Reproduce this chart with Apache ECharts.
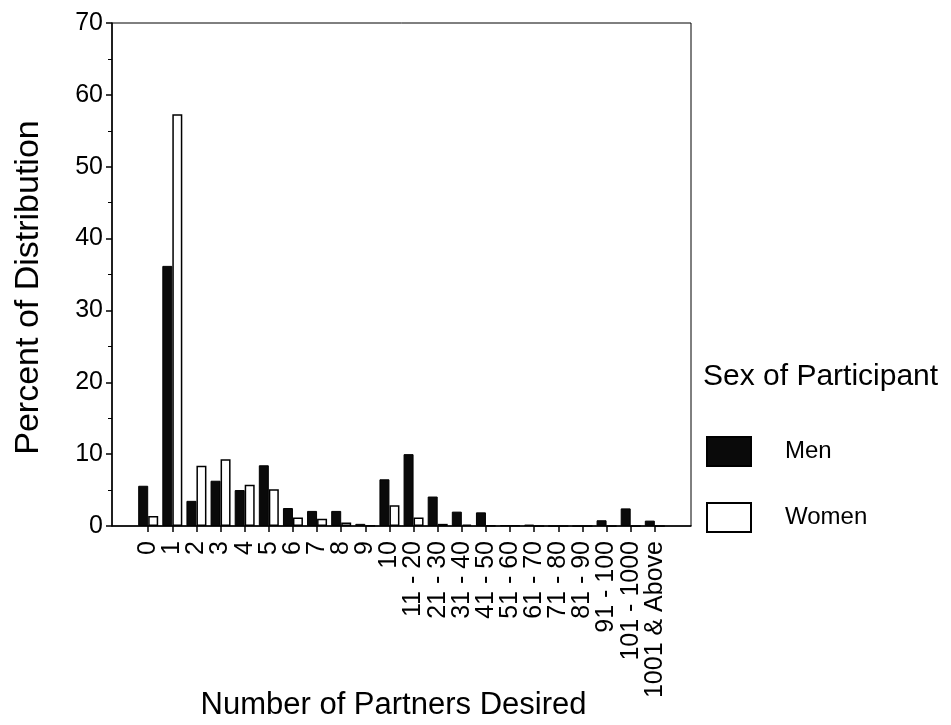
<!DOCTYPE html>
<html>
<head>
<meta charset="utf-8">
<script src="https://cdn.jsdelivr.net/npm/echarts@6/dist/echarts.min.js"></script>
<style>
html,body{margin:0;padding:0;background:#fff;}
#chart{width:951px;height:725px;}
</style>
</head>
<body>
<div id="chart"></div>
<script>
var categories = ['0','1','2','3','4','5','6','7','8','9','10','11 - 20','21 - 30','31 - 40','41 - 50','51 - 60','61 - 70','71 - 80','81 - 90','91 - 100','101 - 1000','1001 & Above'];
var men =   [5.6, 36.2, 3.5, 6.3, 5.0, 8.45, 2.5, 2.1, 2.1, 0.3, 6.5, 10.0, 4.1, 2.0, 1.9, 0.1, 0.2, 0, 0, 0.8, 2.45, 0.75];
var women = [1.4, 57.3, 8.4, 9.3, 5.75, 5.1, 1.2, 1.0, 0.5, 0.05, 2.9, 1.2, 0.3, 0.2, 0.1, 0.05, 0, 0, 0, 0, 0, 0];
var yTicks = [0, 10, 20, 30, 40, 50, 60, 70];

// pad one empty slot on each side of the category axis
var cats = [''].concat(categories, ['']);
var menP = [null].concat(men, [null]);
var womenP = [null].concat(women, [null]);

var FONT = 'Liberation Sans, Arial, sans-serif';
var chart = echarts.init(document.getElementById('chart'));
chart.setOption({
  animation: false,
  backgroundColor: '#fff',
  textStyle: {fontFamily: FONT, color: '#000'},
  title: {
    text: 'Sex of Participant',
    left: 703, top: 362, padding: 0,
    textStyle: {fontFamily: FONT, fontSize: 30, fontWeight: 'normal', color: '#000'}
  },
  legend: {
    orient: 'vertical',
    left: 706, top: 436, padding: 0,
    itemWidth: 44, itemHeight: 29, itemGap: 35,
    icon: 'rect',
    data: ['Men', 'Women'],
    textStyle: {fontFamily: FONT, fontSize: 24, color: '#000', padding: [0, 0, 0, 29]}
  },
  grid: {
    left: 112, right: 260, top: 23, bottom: 199,
    outerBoundsMode: 'none', containLabel: false,
    show: true, borderColor: '#000', borderWidth: 1, backgroundColor: 'transparent'
  },
  xAxis: {
    type: 'category',
    data: cats,
    name: 'Number of Partners Desired',
    nameLocation: 'middle',
    nameGap: 164,
    nameMoveOverlap: false,
    nameTextStyle: {fontFamily: FONT, fontSize: 31, color: '#000', padding: [0, 16, 0, 0]},
    axisLine: {lineStyle: {color: '#000', width: 1.5}},
    axisTick: {
      show: true, alignWithLabel: true, length: 6,
      lineStyle: {color: '#000', width: 1.5},
      interval: function (i, v) { return v !== ''; }
    },
    axisLabel: {rotate: 90, interval: 0, margin: 15, fontFamily: FONT, fontSize: 25, color: '#000'},
    splitLine: {show: false}
  },
  yAxis: {
    type: 'value',
    min: yTicks[0], max: yTicks[yTicks.length - 1], interval: 10,
    name: 'Percent of Distribution',
    nameLocation: 'middle',
    nameGap: 66,
    nameMoveOverlap: false,
    nameTextStyle: {fontFamily: FONT, fontSize: 34, color: '#000', padding: [0, 26, 0, 0]},
    axisLine: {show: true, lineStyle: {color: '#000', width: 1.5}},
    axisTick: {show: true, length: 6, lineStyle: {color: '#000', width: 1.5}},
    minorTick: {show: true, splitNumber: 2, length: 4, lineStyle: {color: '#000', width: 1}},
    axisLabel: {margin: 9, fontFamily: FONT, fontSize: 25, color: '#000'},
    splitLine: {show: false}
  },
  series: [
    {
      name: 'Men', type: 'bar', data: menP,
      barWidth: 10, barGap: '0%',
      itemStyle: {color: '#0a0a0a', borderColor: '#000', borderWidth: 1}
    },
    {
      name: 'Women', type: 'bar', data: womenP,
      barWidth: 10, barGap: '0%',
      itemStyle: {color: '#fff', borderColor: '#000', borderWidth: 1.5}
    }
  ]
});
</script>
</body>
</html>
